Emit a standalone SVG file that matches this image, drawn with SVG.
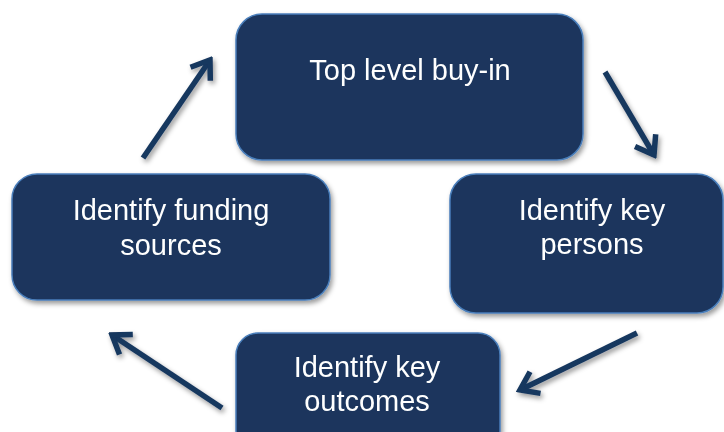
<svg xmlns="http://www.w3.org/2000/svg" width="724" height="432" viewBox="0 0 724 432">
<style>
.box{fill:#1a365d;stroke:#4a7ebb;stroke-width:1.5}
.lbl{font-family:"Liberation Sans",Arial,sans-serif;font-size:29px;fill:#ffffff;text-anchor:middle}
.conn{fill:none;stroke:#17375e;stroke-width:5.5;stroke-linecap:butt}
</style>
<defs>
<filter id="sh" x="-20%" y="-20%" width="140%" height="150%">
<feDropShadow dx="2" dy="3" stdDeviation="2.5" flood-color="#000" flood-opacity="0.4"/>
</filter>
<marker id="chev" markerUnits="userSpaceOnUse" viewBox="-22 -16 26 32" refX="0" refY="0" markerWidth="26" markerHeight="32" orient="auto">
<path d="M-17,-12 L0,0 L-17,12" fill="none" stroke="#17375e" stroke-width="5.5" stroke-linejoin="miter" stroke-miterlimit="10"/>
</marker>
</defs>
<rect width="724" height="432" fill="#ffffff"/>
<g id="connectors" filter="url(#sh)">
<line class="conn" x1="143" y1="158" x2="210" y2="60" marker-end="url(#chev)"/>
<line class="conn" x1="605" y1="72" x2="654" y2="155" marker-end="url(#chev)"/>
<line class="conn" x1="637" y1="333" x2="520" y2="390" marker-end="url(#chev)"/>
<line class="conn" x1="222" y1="408" x2="112" y2="335" marker-end="url(#chev)"/>
</g>
<g id="top" filter="url(#sh)">
<rect class="box" x="236" y="14" width="347" height="146" rx="26"/>
<text class="lbl" x="410" y="80">Top level buy-in</text>
</g>
<g id="right" filter="url(#sh)">
<rect class="box" x="450" y="174" width="273" height="139" rx="26"/>
<text class="lbl" x="592" y="220">Identify key</text>
<text class="lbl" x="592" y="254">persons</text>
</g>
<g id="bottom" filter="url(#sh)">
<rect class="box" x="236" y="333" width="264" height="120" rx="22"/>
<text class="lbl" x="367" y="377">Identify key</text>
<text class="lbl" x="367" y="411">outcomes</text>
</g>
<g id="left" filter="url(#sh)">
<rect class="box" x="12" y="174" width="318" height="126" rx="25"/>
<text class="lbl" x="171" y="220">Identify funding</text>
<text class="lbl" x="171" y="255">sources</text>
</g>
</svg>
